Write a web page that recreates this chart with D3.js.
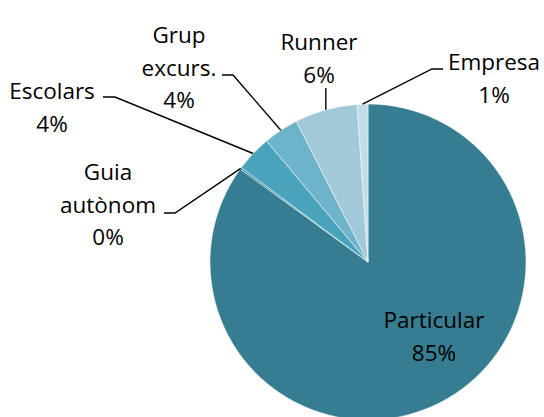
<!DOCTYPE html>
<html>
<head>
<meta charset="utf-8">
<script src="https://cdn.jsdelivr.net/npm/d3@7"></script>
<style>
  body { margin: 0; background: #fff; }
  svg { display: block; }
</style>
</head>
<body>
<div class="pie-chart"></div>
<script>
'use strict'

// Data (percent).
const categories = ['Particular', 'Guia autònom', 'Escolars', 'Grup excurs.', 'Runner', 'Empresa'];
const values = [85.0, 0.2, 3.7, 3.6, 6.4, 1.1];
const colors = ['#367d91', '#3f8fa6', '#48a3bb', '#6db4ca', '#a1c9d9', '#c3dde6'];

// Label text lines (category split for wrapping).
const labelLines = [['Particular'], ['Guia', 'autònom'], ['Escolars'], ['Grup', 'excurs.'], ['Runner'], ['Empresa']];

// Label layout: text centre x, baseline of first line, leader elbow and end.
const labelLayout = [
    {x: 434, y: 328, leader: null},
    {x: 108, y: 180, elbowY: 213, elbowX: 175, endX: 164},
    {x: 52, y: 99, elbowY: 97, elbowX: 115, endX: 103},
    {x: 179, y: 43, elbowY: 75, elbowX: 233, endX: 222},
    {x: 319, y: 50, elbowY: 88, elbowX: null, endX: null},
    {x: 494, y: 70, elbowY: 69, elbowX: 432, endX: 443},
];

let width = 544,
    height = 417,
    cx = 368,
    cy = 262,
    radius = 158,
    lineGap = 32.5;

let svg = d3.select('.pie-chart')
    .append('svg')
        .attr('width', width)
        .attr('height', height);

let data = categories.map((c, i) => ({name: c, value: values[i], i: i}));

let pie = d3.pie()
    .sort(null)
    .value(d => d.value);

let arcs = pie(data);

let arc = d3.arc()
    .innerRadius(0)
    .outerRadius(radius);

let edge = d3.arc()
    .innerRadius(radius)
    .outerRadius(radius);

let g = svg.append('g')
    .attr('transform', `translate(${cx}, ${cy})`);

// Slices.
g.selectAll('path.slice')
    .data(arcs)
    .join('path')
        .attr('class', 'slice')
        .attr('d', arc)
        .attr('fill', d => colors[d.data.i])
        .attr('stroke', '#ffffff')
        .attr('stroke-width', 0.5);

// Leader lines.
let leaders = arcs.filter(d => labelLayout[d.data.i].leader !== null);

svg.append('g')
    .selectAll('polyline')
    .data(leaders)
    .join('polyline')
        .attr('points', d => {
            let L = labelLayout[d.data.i];
            let [px, py] = edge.centroid(d);
            px += cx; py += cy;
            if (L.elbowX === null) {
                return [[px, py], [px, L.elbowY]].map(p => p.join(',')).join(' ');
            }
            return [[px, py], [L.elbowX, L.elbowY], [L.endX, L.elbowY]].map(p => p.join(',')).join(' ');
        })
        .attr('fill', 'none')
        .attr('stroke', '#000')
        .attr('stroke-width', 1.4);

// Labels.
let labels = svg.append('g')
    .attr('font-family', '"Open Sans", sans-serif')
    .attr('font-size', 22.5)
    .attr('fill', '#000')
    .attr('text-anchor', 'middle');

data.forEach(d => {
    let L = labelLayout[d.i];
    let lines = labelLines[d.i].concat([`${Math.round(d.value)}%`]);
    let t = labels.append('text')
        .attr('x', L.x)
        .attr('y', L.y);
    lines.forEach((s, k) => {
        t.append('tspan')
            .attr('x', L.x)
            .attr('dy', k === 0 ? 0 : lineGap)
            .text(s);
    });
});
</script>
</body>
</html>
